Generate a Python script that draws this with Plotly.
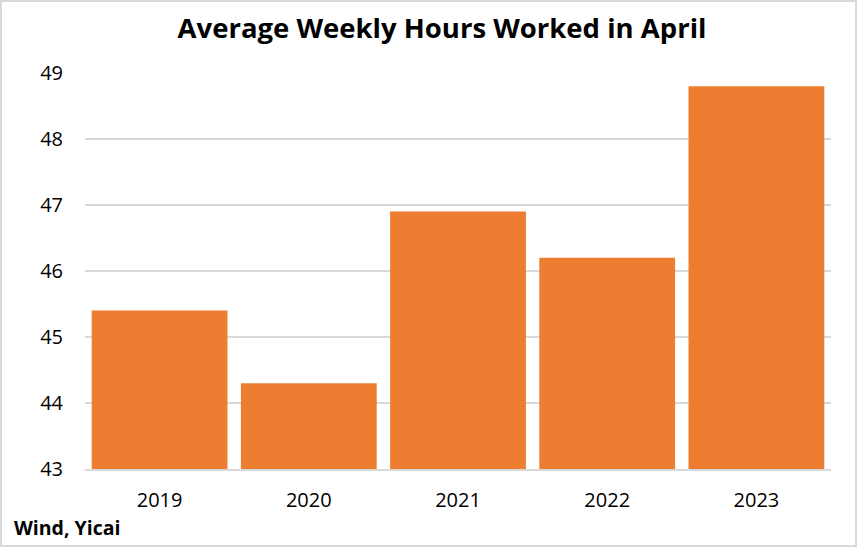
import plotly.graph_objects as go

years = ["2019", "2020", "2021", "2022", "2023"]
hours = [45.4, 44.3, 46.9, 46.2, 48.8]
y_ticks = [43, 44, 45, 46, 47, 48, 49]

FONT = "Open Sans, Calibri, Carlito, sans-serif"

fig = go.Figure(go.Bar(x=years, y=hours, marker=dict(color="#ED7D31", line=dict(width=0))))

L, R, T, B = 85, 27, 73, 79
W, H = 858, 548
pw, ph = W - L - R, H - T - B

fig.update_layout(
    width=W, height=H,
    margin=dict(l=L, r=R, t=T, b=B),
    paper_bgcolor="white", plot_bgcolor="white",
    bargap=0.09,
    showlegend=False,
    font=dict(family=FONT, color="#000000", size=20),
    title=dict(text="<b>Average Weekly Hours Worked in April</b>",
               x=442 / W, xanchor="center", y=1 - 28 / H, yanchor="middle",
               font=dict(family=FONT, size=27.5, color="#000000")),
    xaxis=dict(showgrid=False, showline=True, linecolor="#d9d9d9", linewidth=2,
               ticks="", tickfont=dict(size=20), ticklabelstandoff=12),
    yaxis=dict(range=[43, 49], tickvals=y_ticks, showgrid=True, gridcolor="#d9d9d9",
               gridwidth=1.5, zeroline=False, showline=False, ticks="",
               tickfont=dict(size=20), ticklabelstandoff=21),
    annotations=[dict(text="<b>Wind, Yicai</b>", xref="paper", yref="paper",
                      x=(12 - L) / pw, y=(H - B - 527) / ph, xanchor="left", yanchor="middle",
                      showarrow=False, font=dict(family=FONT, size=19.5, color="#000000"))],
    shapes=[dict(type="rect", xref="paper", yref="paper",
                 x0=(1 - L) / pw, x1=(W - 2 - L) / pw,
                 y0=-(B - 2) / ph, y1=1 + (T - 1) / ph,
                 line=dict(color="#d9d9d9", width=2), layer="below")],
)

fig.write_html("out.html", config={"displayModeBar": False},
               post_script="document.body.style.margin='0';document.body.style.padding='0';")
